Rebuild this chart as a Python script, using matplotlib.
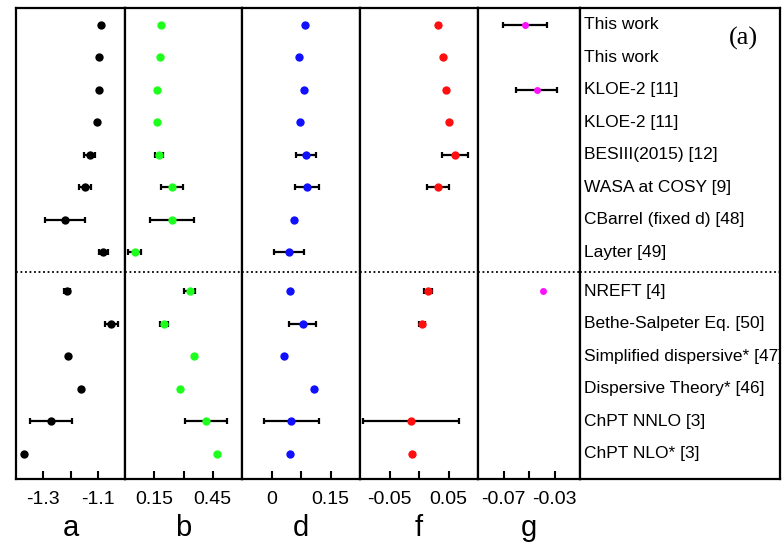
import numpy as np
import matplotlib
matplotlib.use("Agg")
import matplotlib.pyplot as plt

plt.rcParams['font.family'] = ['Liberation Sans', 'DejaVu Sans']

nan = np.nan

labels = ["This work", "This work", "KLOE-2 [11]", "KLOE-2 [11]",
          "BESIII(2015) [12]", "WASA at COSY [9]", "CBarrel (fixed d) [48]",
          "Layter [49]", "NREFT [4]", "Bethe-Salpeter Eq. [50]",
          "Simplified dispersive* [47]", "Dispersive Theory* [46]",
          "ChPT NNLO [3]", "ChPT NLO* [3]"]

# Row positions: experiments on top, theory below the dotted separator
rows = [0, 1, 2, 3, 4, 5, 6, 7, 8.2, 9.2, 10.2, 11.2, 12.2, 13.2]
separator = 7.6

a_val = [-1.087, -1.097, -1.095, -1.104, -1.130, -1.145, -1.220, -1.079,
         -1.213, -1.050, -1.210, -1.160, -1.271, -1.370]
a_err = [nan, nan, nan, nan, 0.019, 0.022, 0.072, 0.017,
         0.011, 0.025, nan, nan, 0.076, nan]

b_val = [0.183, 0.179, 0.164, 0.162, 0.174, 0.240, 0.240, 0.050,
         0.331, 0.198, 0.352, 0.282, 0.416, 0.473]
b_err = [nan, nan, nan, nan, 0.021, 0.055, 0.114, 0.033,
         0.026, 0.020, nan, nan, 0.107, nan]

d_val = [0.084, 0.070, 0.083, 0.073, 0.087, 0.090, 0.057, 0.045,
         0.046, 0.079, 0.033, 0.107, 0.050, 0.048]
d_err = [nan, nan, nan, nan, 0.025, 0.031, nan, 0.038,
         nan, 0.035, nan, nan, 0.070, nan]

f_val = [0.033, 0.041, 0.045, 0.051, 0.061, 0.032, nan, nan,
         0.015, 0.005, nan, nan, -0.014, -0.012]
f_err = [nan, nan, nan, nan, 0.022, 0.019, nan, nan,
         0.007, 0.005, nan, nan, 0.081, nan]

g_val = [-0.053, nan, -0.044, nan, nan, nan, nan, nan,
         -0.039, nan, nan, nan, nan, nan]
g_err = [0.0174, nan, 0.0163, nan, nan, nan, nan, nan,
         nan, nan, nan, nan, nan, nan]

panels = [
    ("a", a_val, a_err, "black", (-1.4, -1.0), [-1.3, -1.2, -1.1], ["-1.3", "", "-1.1"], 6.0),
    ("b", b_val, b_err, "#1eff1e", (0.0, 0.6), [0.15, 0.30, 0.45], ["0.15", "", "0.45"], 6.0),
    ("d", d_val, d_err, "#1010ff", (-0.075, 0.225), [0.0, 0.075, 0.15], ["0", "", "0.15"], 6.0),
    ("f", f_val, f_err, "#ff1010", (-0.1, 0.1), [-0.05, 0.0, 0.05], ["-0.05", "", "0.05"], 6.0),
    ("g", g_val, g_err, "#ff10ff", (-0.09, -0.01), [-0.07, -0.05, -0.03], ["-0.07", "", "-0.03"], 5.0),
]

W, H = 782, 549
fig = plt.figure(figsize=(W / 100, H / 100), dpi=100)

edges = [16, 125, 242, 360, 478, 580, 780]
top_px, bot_px = 8, 479
ylim = (13.98, -0.514)

def add_axes(x0, x1):
    return fig.add_axes([x0 / W, 1 - bot_px / H, (x1 - x0) / W, (bot_px - top_px) / H])

for i, (name, vals, errs, col, xl, ticks, tlabels, ms) in enumerate(panels):
    ax = add_axes(edges[i], edges[i + 1])
    v = np.array(vals, dtype=float)
    e = np.array(errs, dtype=float)
    y = np.array(rows, dtype=float)
    has_err = ~np.isnan(e) & ~np.isnan(v)
    ax.errorbar(v[has_err], y[has_err], xerr=e[has_err], fmt="none",
                ecolor="black", elinewidth=1.6, capsize=2, capthick=1.6, zorder=2)
    ok = ~np.isnan(v)
    ax.plot(v[ok], y[ok], "o", color=col, markersize=ms, markeredgewidth=0, zorder=3)
    ax.axhline(separator, color="black", linestyle=(0, (1, 1.5)), linewidth=1.3)
    ax.set_xlim(*xl)
    ax.set_ylim(*ylim)
    ax.set_xticks(ticks)
    ax.set_xticklabels(tlabels, fontsize=14)
    ax.set_yticks([])
    ax.tick_params(axis="x", direction="in", length=6, width=1.5, pad=9)
    ax.set_xlabel(name, fontsize=21, labelpad=4)
    for s in ax.spines.values():
        s.set_linewidth(1.6)

# Reference label column
axl = add_axes(edges[5], edges[6])
axl.set_xlim(0, 1)
axl.set_ylim(*ylim)
axl.set_xticks([])
axl.set_yticks([])
for s in axl.spines.values():
    s.set_linewidth(1.6)
axl.axhline(separator, color="black", linestyle=(0, (1, 1.5)), linewidth=1.3)
for lab, yy in zip(labels, rows):
    axl.text(0.02, yy, lab, fontsize=12.5, va="center", ha="left", clip_on=True)
axl.text(0.815, 0.935, "(a)", fontsize=19, family="Liberation Serif",
         transform=axl.transAxes, ha="center", va="center")

fig.savefig("out.png", dpi=100)
